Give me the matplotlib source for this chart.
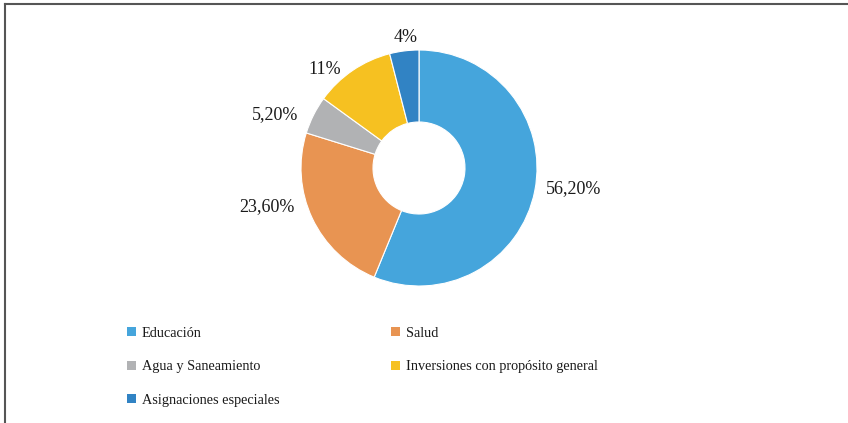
import numpy as np
import matplotlib
matplotlib.use("Agg")
import matplotlib.pyplot as plt
from matplotlib.patches import Patch
from matplotlib.lines import Line2D

categories = ["Educación", "Salud", "Agua y Saneamiento",
              "Inversiones con propósito general", "Asignaciones especiales"]
values = [56.2, 23.6, 5.2, 11.0, 4.0]
value_labels = ["56,20%", "23,60%", "5,20%", "11%", "4%"]

colors = ["#45A5DC", "#E89452", "#B1B2B4", "#F6C121", "#3183C4"]

W, H = 848, 423
fig = plt.figure(figsize=(W / 100, H / 100), dpi=100)
ax = fig.add_axes([0, 0, 1, 1])

cx, cy, R = 419, H - 168, 118
wedges, _ = ax.pie(values, colors=colors, startangle=90, counterclock=False,
                   center=(cx, cy), radius=R, frame=True,
                   wedgeprops=dict(width=R - 46, edgecolor="white", linewidth=0.8))
ax.set_xlim(0, W)
ax.set_ylim(0, H)
ax.set_aspect("equal")
ax.axis("off")

# label placement (derived from wedge angles with layout nudges, pixels)
label_dist = [1.25, 1.25, 1.25, 1.2, 1.13]
label_nudge = [(10, 8), (-19, 24), (-12, -13), (-15, -19), (3, -2)]
for w, lab, d, (nx, ny) in zip(wedges, value_labels, label_dist, label_nudge):
    ang = np.deg2rad((w.theta1 + w.theta2) / 2)
    x = cx + R * d * np.cos(ang) + nx
    y = cy + R * d * np.sin(ang) + ny
    ax.text(x, y, lab, ha="center", va="center", fontsize=13,
            family="Liberation Serif", color="#1a1a1a")

# frame lines (top and left)
fig.add_artist(Line2D([5 / W, 1], [1 - 4.5 / H, 1 - 4.5 / H], transform=fig.transFigure,
                      color="#555555", linewidth=1.5))
fig.add_artist(Line2D([5 / W, 5 / W], [0, 1 - 4.5 / H], transform=fig.transFigure,
                      color="#555555", linewidth=1.5))

order = [0, 2, 4, 1, 3]
handles = [Patch(facecolor=colors[i], edgecolor="none") for i in order]
labels = [categories[i] for i in order]
leg = fig.legend(handles, labels, ncol=2, loc="upper left",
                 bbox_to_anchor=(127 / W, 1 - 327 / H),
                 frameon=False, prop=dict(family="Liberation Serif", size=10.3),
                 handlelength=0.6, handleheight=0.6, handletextpad=0.45,
                 labelspacing=1.42, columnspacing=7.78, borderaxespad=0, borderpad=0)
for t in leg.get_texts():
    t.set_color("#1a1a1a")

fig.savefig("out.png", dpi=100)
